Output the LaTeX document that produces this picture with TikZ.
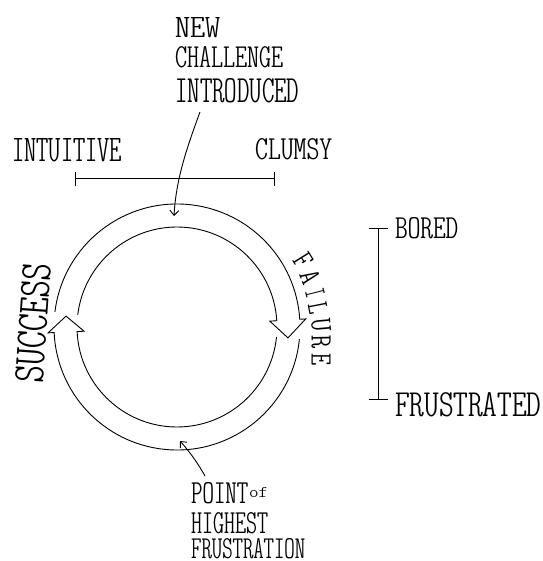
\documentclass[tikz,border=0pt]{standalone}
\usepackage{fontspec}
\usepackage{graphicx}
\usetikzlibrary{arrows.meta}
\newfontfamily\hand{lmmonoltcond10-regular.otf}
\newcommand\fitto[3]{\resizebox{#1pt}{#2pt}{#3}}
\newcommand\fl[2]{\resizebox{#1pt}{19pt}{#2}}
\begin{document}
\begin{tikzpicture}[x=1pt,y=1pt,
  ring/.style={line width=0.9pt, line join=miter},
  scaleline/.style={line width=1pt},
  pointer/.style={line width=0.9pt, -{Straight Barb[length=5pt,width=9pt]}},
  lbl/.style={inner sep=0pt, anchor=base west, font=\hand},
  rlbl/.style={inner sep=0pt, anchor=center, font=\hand},
]
\useasboundingbox (0,0) rectangle (542,-561);

% cycle ring with two block arrows
\begin{scope}[shift={(177,-327)}]
\draw[ring] (173:123) arc[start angle=173,end angle=3.6,radius=123]
  -- (3.6:129) -- (-5.6:111.5) -- (3.6:93) -- (3.6:100)
  arc[start angle=3.6,end angle=173,radius=100];
\draw[ring] (-5.7:123) arc[start angle=-5.7,end angle=-177.4,radius=123]
  -- (-177.4:129) -- (-185.6:111.5) -- (-177.4:93) -- (-177.4:100)
  arc[start angle=-177.4,end angle=-5.7,radius=100];
\end{scope}

% labels
\node[lbl] (nNew)   at (175,-38)  {\fitto{45}{20}{NEW}};
\node[lbl] (nChal)  at (175,-68)  {\fitto{108}{21}{CHALLENGE}};
\node[lbl] (nIntro) at (175,-103) {\fitto{124}{24}{INTRODUCED}};
\node[lbl] (nIntu)  at (12,-162)  {\fitto{110}{23}{INTUITIVE}};
\node[lbl] (nClum)  at (255,-160) {\fitto{77}{21}{CLUMSY}};
\node[lbl] (nBored) at (395,-238) {\fitto{63}{21}{BORED}};
\node[lbl] (nFrus)  at (395,-416) {\fitto{146}{24}{FRUSTRATED}};
\node[lbl] (nPoint) at (191,-503) {\fitto{57}{21}{POINT}};
\node[lbl] (nOf)    at (249,-497) {\fitto{19}{10}{of}};
\node[lbl] (nHigh)  at (191,-533) {\fitto{77}{21}{HIGHEST}};
\node[lbl] (nFrtn)  at (191,-558) {\fitto{114}{20}{FRUSTRATION}};

\node[rlbl, rotate=86] (nSucc) at (33,-323) {\fitto{120}{28}{SUCCESS}};

\node[rlbl, rotate=-58] (fF) at (303,-261) {\fl{12}{F}};
\node[rlbl, rotate=-68] (fA) at (310,-277) {\fl{13}{A}};
\node[rlbl, rotate=-76] (fI) at (315,-293) {\fl{8}{I}};
\node[rlbl, rotate=-79] (fL) at (318,-308) {\fl{11}{L}};
\node[rlbl, rotate=-85] (fU) at (321,-325) {\fl{13}{U}};
\node[rlbl, rotate=-89] (fR) at (321,-342) {\fl{13}{R}};
\node[rlbl, rotate=-90] (fE) at (321,-359) {\fl{12}{E}};

% scales
\coordinate (hL) at (75,-179);
\coordinate (hR) at (275,-179);
\draw[scaleline, {Bar[width=14pt]}-{Bar[width=14pt]}] (hL) -- (hR);
\coordinate (vT) at (378,-228);
\coordinate (vB) at (378,-400);
\draw[scaleline, {Bar[width=19pt]}-{Bar[width=19pt]}] (vT) -- (vB);

% pointers
\coordinate (ncStart) at (200,-112);
\coordinate (topTip) at (174,-216);
\draw[pointer] (ncStart) .. controls (186,-150) and (176,-180) .. (topTip);
\coordinate (pStart) at (205,-476);
\coordinate (botTip) at (180,-441);
\draw[pointer] (pStart) .. controls (196,-460) and (188,-450) .. (botTip);
\end{tikzpicture}
\end{document}
